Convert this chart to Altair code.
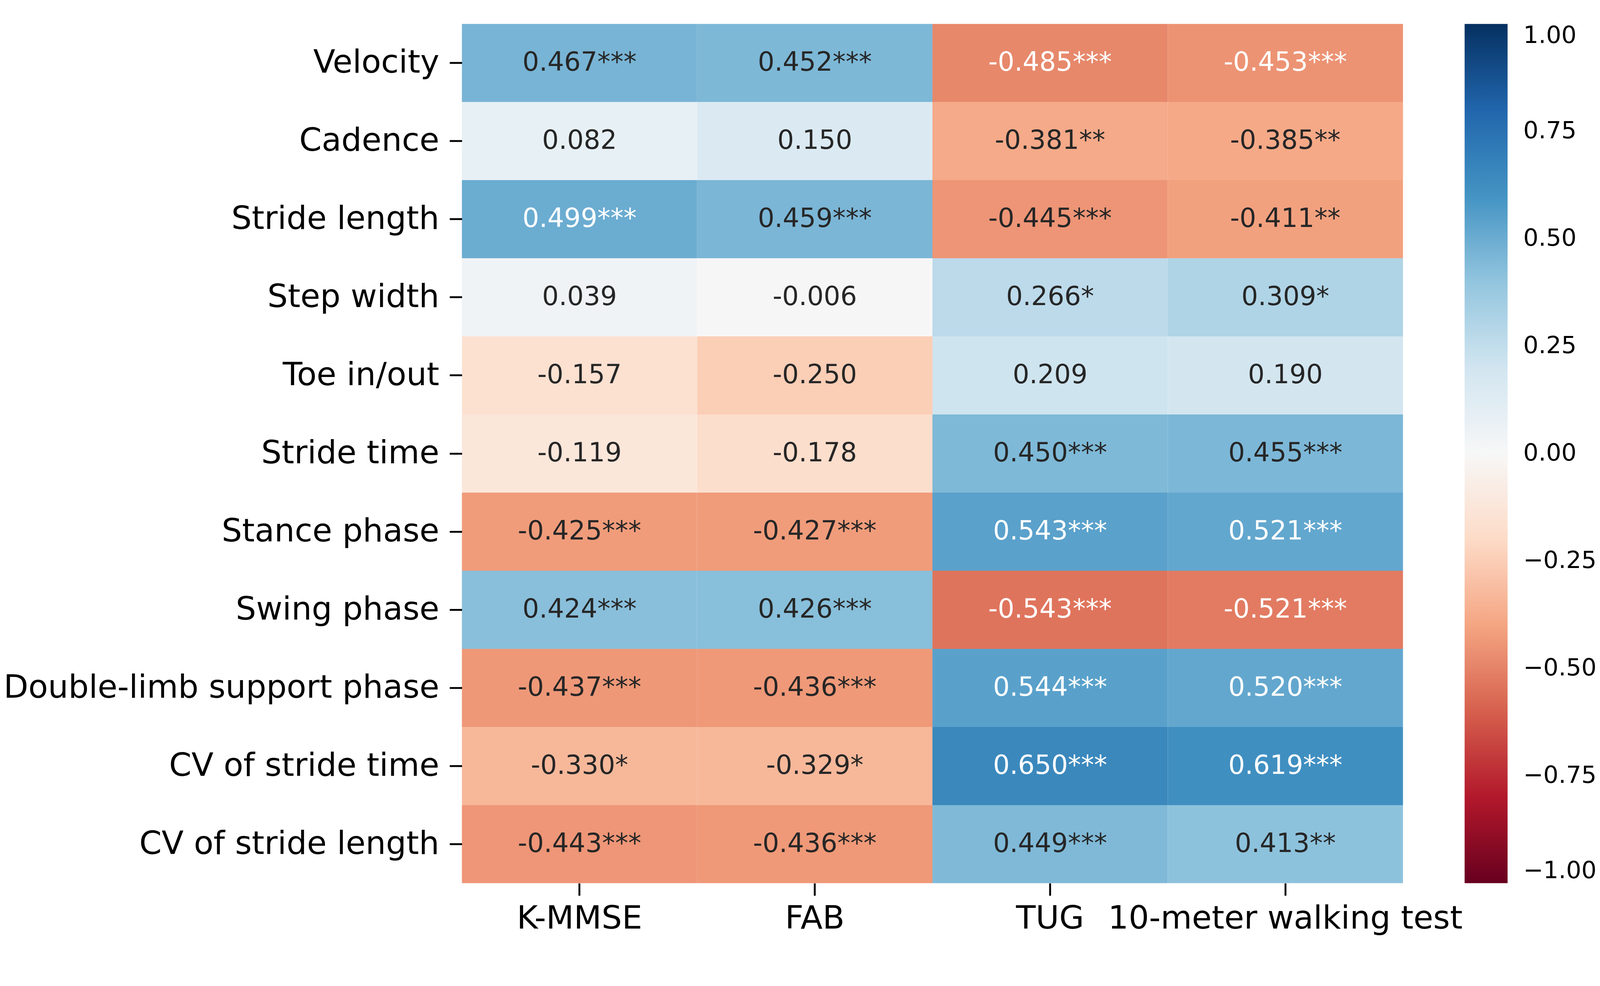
import altair as alt
import pandas as pd

# ---- data ----
gait_params = [
    "Velocity", "Cadence", "Stride length", "Step width", "Toe in/out",
    "Stride time", "Stance phase", "Swing phase", "Double-limb support phase",
    "CV of stride time", "CV of stride length",
]
measures = ["K-MMSE", "FAB", "TUG", "10-meter walking test"]

r_kmmse = [0.467, 0.082, 0.499, 0.039, -0.157, -0.119, -0.425, 0.424, -0.437, -0.330, -0.443]
r_fab = [0.452, 0.150, 0.459, -0.006, -0.250, -0.178, -0.427, 0.426, -0.436, -0.329, -0.436]
r_tug = [-0.485, -0.381, -0.445, 0.266, 0.209, 0.450, 0.543, -0.543, 0.544, 0.650, 0.449]
r_10m = [-0.453, -0.385, -0.411, 0.309, 0.190, 0.455, 0.521, -0.521, 0.520, 0.619, 0.413]

sig_kmmse = ["***", "", "***", "", "", "", "***", "***", "***", "*", "***"]
sig_fab = ["***", "", "***", "", "", "", "***", "***", "***", "*", "***"]
sig_tug = ["***", "**", "***", "*", "", "***", "***", "***", "***", "***", "***"]
sig_10m = ["***", "**", "**", "*", "", "***", "***", "***", "***", "***", "**"]

colorbar_ticks = [1.0, 0.75, 0.5, 0.25, 0.0, -0.25, -0.5, -0.75, -1.0]

# ColorBrewer RdBu (as in matplotlib), from -1 (red) to +1 (blue)
rdbu = ["#67001f", "#b2182b", "#d6604d", "#f4a582", "#fddbc7", "#f7f7f7",
        "#d1e5f0", "#92c5de", "#4393c3", "#2166ac", "#053061"]
rdbu_domain = [-1.0, -0.8, -0.6, -0.4, -0.2, 0.0, 0.2, 0.4, 0.6, 0.8, 1.0]


def hex_to_rgb(h):
    return [int(h[i:i + 2], 16) / 255 for i in (1, 3, 5)]


def cmap_rgb(v):
    # matplotlib LinearSegmentedColormap lookup (N=256)
    x = (v + 1) / 2
    idx = min(max(int(x * 256), 0), 255)
    t = idx / 255 * (len(rdbu) - 1)
    i = min(int(t), len(rdbu) - 2)
    f = t - i
    a, b = hex_to_rgb(rdbu[i]), hex_to_rgb(rdbu[i + 1])
    return [a[k] + (b[k] - a[k]) * f for k in range(3)]


def text_color(v):
    # seaborn heatmap annotation colour rule
    rgb = cmap_rgb(v)
    lin = [c / 12.92 if c <= 0.03928 else ((c + 0.055) / 1.055) ** 2.4 for c in rgb]
    lum = 0.2126 * lin[0] + 0.7152 * lin[1] + 0.0722 * lin[2]
    return "#262626" if lum > 0.408 else "#ffffff"


records = []
for m, vals, sigs in zip(measures, [r_kmmse, r_fab, r_tug, r_10m],
                         [sig_kmmse, sig_fab, sig_tug, sig_10m]):
    for p, v, s in zip(gait_params, vals, sigs):
        records.append({
            "param": p, "measure": m, "r": v,
            "label": f"{v:.3f}{s}", "tcolor": text_color(v),
        })
df = pd.DataFrame(records)

FONT = "DejaVu Sans"
AXIS_FS = 86
PLOT_W = 2519
PLOT_H = 2300

x_enc = alt.X(
    "measure:N", sort=measures,
    scale=alt.Scale(paddingInner=0, paddingOuter=0),
    axis=alt.Axis(orient="bottom", title=None, labelAngle=0, labelFontSize=AXIS_FS,
                  labelColor="black", tickSize=33, tickWidth=5, tickColor="black",
                  domain=False, labelPadding=20, labelLimit=0, labelFont=FONT),
)
y_enc = alt.Y(
    "param:N", sort=gait_params,
    scale=alt.Scale(paddingInner=0, paddingOuter=0),
    axis=alt.Axis(title=None, labelFontSize=AXIS_FS, labelColor="black", tickSize=33,
                  tickWidth=5, tickColor="black", domain=False, labelPadding=28,
                  labelLimit=0, labelFont=FONT),
)

heat = alt.Chart(df).mark_rect().encode(
    x=x_enc,
    y=y_enc,
    color=alt.Color(
        "r:Q",
        scale=alt.Scale(domain=rdbu_domain, range=rdbu, interpolate="rgb"),
        legend=alt.Legend(
            title=None, orient="right", direction="vertical",
            gradientLength=PLOT_H, gradientThickness=115, offset=165,
            gradientStrokeWidth=0, labelFontSize=64, labelOffset=42,
            labelColor="black", values=colorbar_ticks, format=".2f",
            labelOverlap=False, labelFont=FONT, labelLimit=0,
        ),
    ),
)

text = alt.Chart(df).mark_text(fontSize=70, font=FONT, align="center",
                               baseline="middle").encode(
    x=alt.X("measure:N", sort=measures),
    y=alt.Y("param:N", sort=gait_params),
    text="label:N",
    fill=alt.Fill("tcolor:N", scale=None),
)

chart = alt.layer(heat, text).properties(
    width=PLOT_W, height=PLOT_H,
    padding={"left": 0, "top": 0, "right": 0, "bottom": 0},
).configure(font=FONT).configure_view(stroke=None)

chart.save("out.html", embed_options={"renderer": "svg", "actions": False})
